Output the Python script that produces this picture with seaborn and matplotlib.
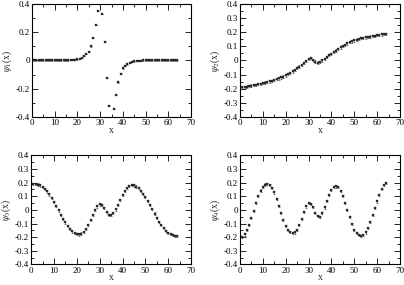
import numpy as np
import pandas as pd
import matplotlib
matplotlib.use("Agg")
import matplotlib.pyplot as plt
import seaborn as sns
from matplotlib.ticker import MultipleLocator, FuncFormatter

x_vals = list(range(1, 65))

psi1 = [0.0, 0.0, 0.0, 0.0, 0.0, 0.0, 0.0, 0.0, 0.0, 0.0,
        0.0, 0.0, 0.0, 0.0, 0.0, 0.001, 0.002, 0.003, 0.005, 0.008,
        0.013, 0.020, 0.030, 0.045, 0.063, 0.100, 0.160, 0.250, 0.350, 0.420,
        0.330, 0.130, -0.126, -0.324, -0.420, -0.343, -0.245, -0.156, -0.096, -0.057,
        -0.040, -0.027, -0.018, -0.011, -0.007, -0.004, -0.002, -0.001, 0.0, 0.0,
        0.0, 0.0, 0.0, 0.0, 0.0, 0.0, 0.0, 0.0, 0.0, 0.0,
        0.0, 0.0, 0.0, 0.0]

psi2 = [-0.190, -0.188, -0.185, -0.182, -0.178, -0.175, -0.172, -0.168, -0.165, -0.161,
        -0.157, -0.153, -0.149, -0.145, -0.140, -0.134, -0.128, -0.121, -0.114, -0.106,
        -0.097, -0.088, -0.078, -0.067, -0.056, -0.044, -0.032, -0.019, -0.005, 0.010,
        0.015, 0.005, -0.008, -0.015, -0.010, 0.000, 0.012, 0.024, 0.036, 0.048,
        0.059, 0.070, 0.081, 0.092, 0.102, 0.111, 0.120, 0.128, 0.135, 0.142,
        0.148, 0.153, 0.157, 0.160, 0.163, 0.166, 0.169, 0.172, 0.175, 0.178,
        0.181, 0.184, 0.186, 0.188]

psi3 = [0.192, 0.190, 0.186, 0.179, 0.168, 0.153, 0.135, 0.113, 0.087, 0.058,
        0.027, -0.004, -0.035, -0.064, -0.092, -0.117, -0.139, -0.158, -0.171, -0.179,
        -0.180, -0.173, -0.160, -0.138, -0.110, -0.075, -0.038, -0.003, 0.025, 0.040,
        0.038, 0.016, -0.016, -0.038, -0.040, -0.025, 0.003, 0.038, 0.075, 0.110,
        0.138, 0.160, 0.173, 0.180, 0.179, 0.171, 0.158, 0.139, 0.117, 0.092,
        0.064, 0.035, 0.004, -0.027, -0.058, -0.087, -0.113, -0.135, -0.153, -0.168,
        -0.179, -0.186, -0.190, -0.192]

psi4 = [-0.197, -0.180, -0.150, -0.112, -0.060, -0.008, 0.050, 0.100, 0.142, 0.170,
        0.186, 0.191, 0.183, 0.163, 0.128, 0.082, 0.030, -0.023, -0.074, -0.116,
        -0.146, -0.163, -0.170, -0.165, -0.145, -0.110, -0.065, -0.018, 0.025, 0.050,
        0.045, 0.020, -0.020, -0.045, -0.050, -0.025, 0.018, 0.065, 0.110, 0.145,
        0.165, 0.172, 0.165, 0.140, 0.100, 0.050, -0.002, -0.055, -0.105, -0.145,
        -0.172, -0.186, -0.190, -0.184, -0.165, -0.133, -0.090, -0.040, 0.012, 0.062,
        0.112, 0.152, 0.182, 0.198]

series = [psi1, psi2, psi3, psi4]
err_sizes = [0.002, 0.008, 0.008, 0.008]
ylabels = [r"$\psi_1$(x)", r"$\psi_2$(x)", r"$\psi_3$(x)", r"$\psi_4$(x)"]
y_major = [0.2, 0.1, 0.1, 0.1]
y_minor = [0.1, 0.05, 0.05, 0.05]

sns.set_theme(style="ticks")
plt.rcParams["font.family"] = ["Liberation Serif", "DejaVu Serif"]
plt.rcParams["mathtext.fontset"] = "stix"
plt.rcParams["axes.unicode_minus"] = False

fig = plt.figure(figsize=(4.04, 2.85), dpi=100)
positions = [
    [0.079, 0.590, 0.394, 0.396],
    [0.594, 0.590, 0.396, 0.396],
    [0.077, 0.072, 0.396, 0.383],
    [0.594, 0.072, 0.396, 0.383],
]

fmt = FuncFormatter(lambda v, p: ("%g" % round(v, 3)).replace("\u2212", "-"))

for i in range(4):
    ax = fig.add_axes(positions[i])
    df = pd.DataFrame({"x": x_vals, "y": series[i]})
    sns.scatterplot(data=df, x="x", y="y", ax=ax, marker="s", s=0.7,
                    color="#222222", edgecolor="#222222", linewidth=0.2, clip_on=True)
    ax.errorbar(df["x"], df["y"], yerr=err_sizes[i], fmt="none",
                ecolor="#333333", elinewidth=0.4, capsize=0.8, capthick=0.4)
    ax.set_xlim(0, 70)
    ax.set_ylim(-0.4, 0.4)
    ax.xaxis.set_major_locator(MultipleLocator(10))
    ax.xaxis.set_minor_locator(MultipleLocator(5))
    ax.yaxis.set_major_locator(MultipleLocator(y_major[i]))
    ax.yaxis.set_minor_locator(MultipleLocator(y_minor[i]))
    ax.yaxis.set_major_formatter(fmt)
    ax.xaxis.set_major_formatter(fmt)
    ax.tick_params(which="both", direction="in", top=True, right=True,
                   labelsize=6.5, width=0.6, pad=1.5, colors="black")
    ax.tick_params(which="major", length=4)
    ax.tick_params(which="minor", length=2)
    for sp in ax.spines.values():
        sp.set_linewidth(0.8)
        sp.set_color("black")
    ax.set_xlabel("x", fontsize=7, labelpad=-1)
    ax.set_ylabel(ylabels[i], fontsize=7, labelpad=1)

fig.savefig("out.png", dpi=100)
